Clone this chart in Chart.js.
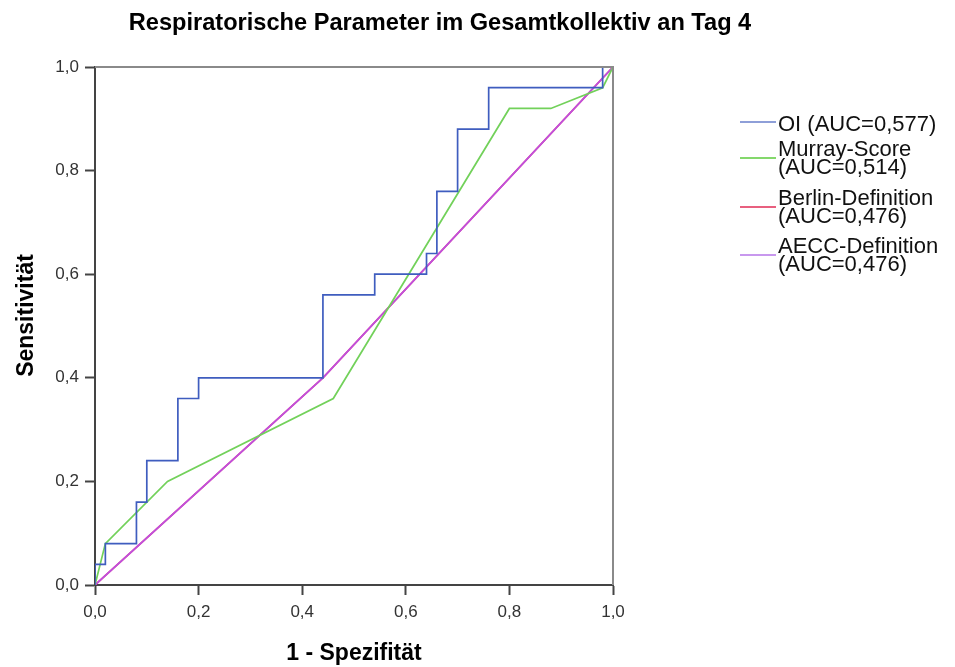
<!DOCTYPE html>
<html>
<head>
<meta charset="utf-8">
<title>Respiratorische Parameter im Gesamtkollektiv an Tag 4</title>
<script src="https://cdn.jsdelivr.net/npm/chart.js@4.4.1/dist/chart.umd.min.js"></script>
<style>
	html, body { margin: 0; padding: 0; background: #fff; }
	#wrap { width: 955px; height: 667px; }
</style>
</head>
<body>
<div id="wrap"><canvas id="roc" width="955" height="667"></canvas></div>
<script>
// ROC-Punkte (1 - Spezifitaet / Sensitivitaet)
var oiFpr = [0, 0, 0.02, 0.02, 0.08, 0.08, 0.10, 0.10, 0.16, 0.16, 0.20, 0.20, 0.44, 0.44, 0.54, 0.54, 0.64, 0.64, 0.66, 0.66, 0.70, 0.70, 0.76, 0.76, 0.98, 0.98, 1.0];
var oiTpr = [0, 0.04, 0.04, 0.08, 0.08, 0.16, 0.16, 0.24, 0.24, 0.36, 0.36, 0.40, 0.40, 0.56, 0.56, 0.60, 0.60, 0.64, 0.64, 0.76, 0.76, 0.88, 0.88, 0.96, 0.96, 1.0, 1.0];
var murrayFpr = [0, 0.02, 0.14, 0.46, 0.80, 0.88, 0.98, 1.0];
var murrayTpr = [0, 0.08, 0.20, 0.36, 0.92, 0.92, 0.96, 1.0];
var berlinFpr = [0, 0.44, 1.0];
var berlinTpr = [0, 0.40, 1.0];
var aeccFpr = [0, 0.44, 1.0];
var aeccTpr = [0, 0.40, 1.0];

var axisTicks = [0, 0.2, 0.4, 0.6, 0.8, 1.0];

var seriesLabels = [
	["OI (AUC=0,577)"],
	["Murray-Score", "(AUC=0,514)"],
	["Berlin-Definition", "(AUC=0,476)"],
	["AECC-Definition", "(AUC=0,476)"]
];
var seriesColors = ["#3f5dbf", "#72d15a", "#e4446e", "#c04fdf"];
var legendColors = ["#8e9fd8", "#84d86c", "#e8607f", "#c898ee"];

function toPoints(xs, ys) {
	return xs.map(function(x, i) { return { x: x, y: ys[i] }; });
}

function commaTick(v) {
	return Number(v).toFixed(1).replace(".", ",");
}

var FONT = "'Liberation Sans', Arial, Helvetica, sans-serif";

// Titel, Y-Achsentitel, Rahmen oben/rechts und Legende rechts
var decor = {
	id: "decor",
	afterDraw: function(chart) {
		var ctx = chart.ctx;
		var a = chart.chartArea;
		ctx.save();
		ctx.strokeStyle = "#8a8a8a";
		ctx.lineWidth = 2;
		ctx.beginPath();
		ctx.moveTo(a.left, a.top);
		ctx.lineTo(a.right, a.top);
		ctx.lineTo(a.right, a.bottom);
		ctx.stroke();

		ctx.fillStyle = "#000";
		ctx.font = "bold 23.6px " + FONT;
		ctx.textAlign = "center";
		ctx.textBaseline = "alphabetic";
		ctx.fillText("Respiratorische Parameter im Gesamtkollektiv an Tag 4", 440, 30);

		// Y-Achsentitel (im Original etwas oberhalb der Mitte)
		ctx.save();
		ctx.font = "bold 23px " + FONT;
		ctx.translate(33, 315.5);
		ctx.rotate(-Math.PI / 2);
		ctx.fillText("Sensitivität", 0, 0);
		ctx.restore();

		// Legende
		var lineY = [122, 158, 207, 255];
		var textY = [[123], [148, 166.5], [197, 215.5], [245, 263.5]];
		ctx.font = "22px " + FONT;
		ctx.textAlign = "left";
		ctx.fillStyle = "#111";
		ctx.lineWidth = 2;
		seriesLabels.forEach(function(lines, i) {
			ctx.strokeStyle = legendColors[i];
			ctx.beginPath();
			ctx.moveTo(740, lineY[i]);
			ctx.lineTo(776, lineY[i]);
			ctx.stroke();
			lines.forEach(function(t, j) {
				ctx.fillText(t, 778, textY[i][j] + 7.9);
			});
		});
		ctx.restore();
	}
};

var scaleBase = {
	type: "linear",
	min: 0,
	max: 1,
	afterBuildTicks: function(scale) {
		scale.ticks = axisTicks.map(function(v) { return { value: v }; });
	},
	grid: {
		drawOnChartArea: false,
		drawTicks: true,
		tickLength: 10,
		tickWidth: 2,
		tickColor: "#444"
	},
	border: { display: true, color: "#444", width: 2 }
};

new Chart(document.getElementById("roc"), {
	type: "scatter",
	data: {
		datasets: [
			{ label: seriesLabels[0].join(" "), data: toPoints(oiFpr, oiTpr), borderColor: seriesColors[0], order: 1 },
			{ label: seriesLabels[1].join(" "), data: toPoints(murrayFpr, murrayTpr), borderColor: seriesColors[1], order: 2 },
			{ label: seriesLabels[2].join(" "), data: toPoints(berlinFpr, berlinTpr), borderColor: seriesColors[2], order: 4 },
			{ label: seriesLabels[3].join(" "), data: toPoints(aeccFpr, aeccTpr), borderColor: seriesColors[3], order: 3 }
		].map(function(d) {
			d.showLine = true;
			d.borderWidth = 1.7;
			d.pointRadius = 0;
			d.tension = 0;
			d.fill = false;
			return d;
		})
	},
	options: {
		responsive: false,
		animation: false,
		events: [],
		layout: { padding: { top: 67, right: 342, left: 0, bottom: 0 } },
		plugins: {
			legend: { display: false },
			title: { display: false },
			tooltip: { enabled: false }
		},
		scales: {
			x: Object.assign({}, scaleBase, {
				position: "bottom",
				afterFit: function(scale) { scale.height = 82; },
				ticks: {
					callback: commaTick,
					color: "#333",
					padding: 7,
					maxRotation: 0,
					font: { family: FONT, size: 17 }
				},
				title: {
					display: true,
					text: "1 - Spezifität",
					color: "#000",
					padding: { top: 0, bottom: 0 },
					font: { family: FONT, size: 23, weight: "bold" }
				}
			}),
			y: Object.assign({}, scaleBase, {
				position: "left",
				afterFit: function(scale) { scale.width = 95; },
				ticks: {
					callback: commaTick,
					color: "#333",
					padding: 6,
					font: { family: FONT, size: 17 }
				},
				title: { display: false }
			})
		}
	},
	plugins: [decor]
});
</script>
</body>
</html>
